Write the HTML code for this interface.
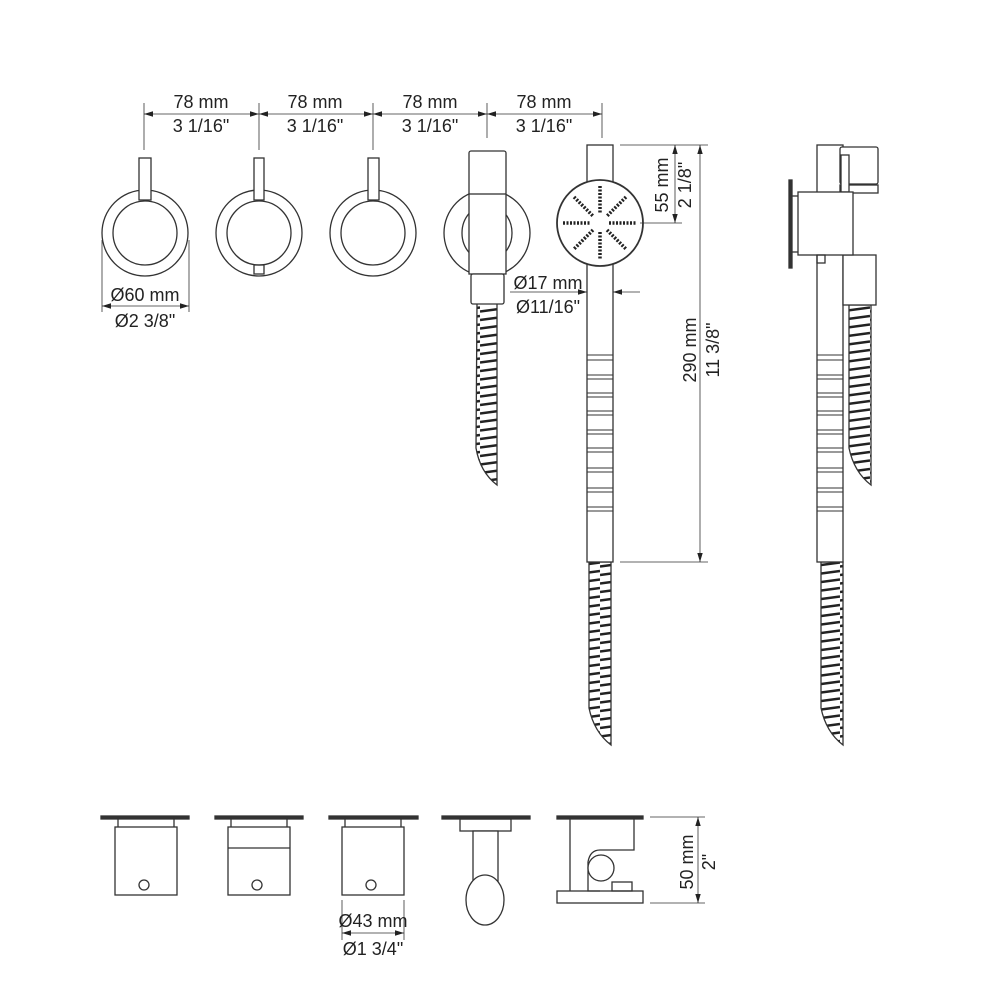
<!DOCTYPE html>
<html><head><meta charset="utf-8"><style>html,body{margin:0;padding:0;background:#fff}svg{display:block}text{font-family:"Liberation Sans",Arial,sans-serif;font-size:18px;fill:#222}</style></head>
<body>
<svg width="1000" height="1000" viewBox="0 0 1000 1000" xmlns="http://www.w3.org/2000/svg">
<defs>
<pattern id="hs" width="30" height="8.5" patternUnits="userSpaceOnUse">
<line x1="0" y1="5.5" x2="30" y2="1.5" stroke="#222" stroke-width="2.4"/>
</pattern>
<marker id="a" viewBox="0 0 10 10" refX="10" refY="5" markerWidth="9" markerHeight="9" orient="auto-start-reverse" markerUnits="userSpaceOnUse"><path d="M0,2 L10,5 L0,8 z" fill="#222"/></marker>
</defs>
<g fill="none" stroke="#333" stroke-width="1.3">
<g stroke-width="0.8">
<line x1="144" y1="103" x2="144" y2="150"/><line x1="259" y1="103" x2="259" y2="150"/><line x1="373" y1="103" x2="373" y2="150"/><line x1="487" y1="103" x2="487" y2="138"/><line x1="602" y1="103" x2="602" y2="138"/>
<line x1="144" y1="114" x2="259" y2="114" marker-start="url(#a)" marker-end="url(#a)"/>
<line x1="259" y1="114" x2="373" y2="114" marker-start="url(#a)" marker-end="url(#a)"/>
<line x1="373" y1="114" x2="487" y2="114" marker-start="url(#a)" marker-end="url(#a)"/>
<line x1="487" y1="114" x2="602" y2="114" marker-start="url(#a)" marker-end="url(#a)"/>
</g>
<circle cx="145" cy="233" r="43"/><circle cx="145" cy="233" r="32"/>
<rect x="139" y="158" width="12" height="42" fill="#fff"/>
<circle cx="259" cy="233" r="43"/><circle cx="259" cy="233" r="32"/>
<rect x="254" y="158" width="10" height="42" fill="#fff"/><rect x="254" y="265" width="10" height="9"/>
<circle cx="373" cy="233" r="43"/><circle cx="373" cy="233" r="32"/>
<rect x="368" y="158" width="11" height="42" fill="#fff"/>
<circle cx="487" cy="233" r="43"/><ellipse cx="487" cy="233" rx="25" ry="28"/>
<path d="M477,303 L497,303 L497,485 Q480,472 476,448 Z" fill="url(#hs)"/>
<rect x="469" y="151" width="37" height="44" rx="2" fill="#fff"/>
<rect x="469" y="194" width="37" height="80" fill="#fff"/>
<rect x="471" y="274" width="33" height="30" rx="2" fill="#fff"/>
<path d="M589,562 L611,562 L611,745 Q594,732 589,708 Z" fill="url(#hs)"/>
<rect x="587" y="145" width="26" height="417" fill="#fff"/>
<g stroke-width="1">
<line x1="587" y1="355" x2="613" y2="355"/><line x1="587" y1="360" x2="613" y2="360"/>
<line x1="587" y1="375" x2="613" y2="375"/><line x1="587" y1="379" x2="613" y2="379"/>
<line x1="587" y1="393" x2="613" y2="393"/><line x1="587" y1="397" x2="613" y2="397"/>
<line x1="587" y1="411" x2="613" y2="411"/><line x1="587" y1="415" x2="613" y2="415"/>
<line x1="587" y1="430" x2="613" y2="430"/><line x1="587" y1="434" x2="613" y2="434"/>
<line x1="587" y1="448" x2="613" y2="448"/><line x1="587" y1="452" x2="613" y2="452"/>
<line x1="587" y1="468" x2="613" y2="468"/><line x1="587" y1="472" x2="613" y2="472"/>
<line x1="587" y1="488" x2="613" y2="488"/><line x1="587" y1="492" x2="613" y2="492"/>
<line x1="587" y1="507" x2="613" y2="507"/><line x1="587" y1="511" x2="613" y2="511"/>
</g>
<circle cx="600" cy="223" r="43" fill="#fff" stroke-width="1.8"/>
<g stroke="#222" stroke-width="3.5" stroke-dasharray="2 1.5">
<line x1="600" y1="186" x2="600" y2="214"/><line x1="600" y1="232" x2="600" y2="260"/>
<line x1="563" y1="223" x2="591" y2="223"/><line x1="609" y1="223" x2="637" y2="223"/>
<line x1="574" y1="197" x2="593" y2="216"/><line x1="607" y1="230" x2="626" y2="249"/>
<line x1="626" y1="197" x2="607" y2="216"/><line x1="593" y1="230" x2="574" y2="249"/>
</g>
<g stroke-width="0.8">
<line x1="620" y1="145" x2="708" y2="145"/><line x1="640" y1="223" x2="682" y2="223"/><line x1="620" y1="562" x2="708" y2="562"/>
<line x1="675" y1="145" x2="675" y2="223" marker-start="url(#a)" marker-end="url(#a)"/>
<line x1="700" y1="145" x2="700" y2="562" marker-start="url(#a)" marker-end="url(#a)"/>
<line x1="510" y1="292" x2="587" y2="292" marker-end="url(#a)"/>
<line x1="640" y1="292" x2="613" y2="292" marker-end="url(#a)"/>
<line x1="102" y1="240" x2="102" y2="312"/><line x1="189" y1="240" x2="189" y2="312"/>
<line x1="102" y1="306" x2="189" y2="306" marker-start="url(#a)" marker-end="url(#a)"/>
</g>
<path d="M821,562 L843,562 L843,745 Q826,732 821,708 Z" fill="url(#hs)"/>
<path d="M849,305 L871,305 L871,485 Q854,472 849,448 Z" fill="url(#hs)"/>
<rect x="817" y="145" width="26" height="417" fill="#fff"/>
<g stroke-width="1">
<line x1="817" y1="355" x2="843" y2="355"/><line x1="817" y1="360" x2="843" y2="360"/>
<line x1="817" y1="375" x2="843" y2="375"/><line x1="817" y1="379" x2="843" y2="379"/>
<line x1="817" y1="393" x2="843" y2="393"/><line x1="817" y1="397" x2="843" y2="397"/>
<line x1="817" y1="411" x2="843" y2="411"/><line x1="817" y1="415" x2="843" y2="415"/>
<line x1="817" y1="430" x2="843" y2="430"/><line x1="817" y1="434" x2="843" y2="434"/>
<line x1="817" y1="448" x2="843" y2="448"/><line x1="817" y1="452" x2="843" y2="452"/>
<line x1="817" y1="468" x2="843" y2="468"/><line x1="817" y1="472" x2="843" y2="472"/>
<line x1="817" y1="488" x2="843" y2="488"/><line x1="817" y1="492" x2="843" y2="492"/>
<line x1="817" y1="507" x2="843" y2="507"/><line x1="817" y1="511" x2="843" y2="511"/>
</g>
<rect x="840" y="147" width="38" height="37" rx="2" fill="#fff"/>
<rect x="840" y="185" width="38" height="8" fill="#fff"/>
<rect x="841" y="155" width="8" height="37" fill="#fff"/>
<rect x="843" y="255" width="33" height="50" fill="#fff"/>
<rect x="798" y="192" width="55" height="63" fill="#fff"/>
<rect x="817" y="255" width="8" height="8"/>
<rect x="789" y="180" width="3" height="88" fill="#333"/>
<line x1="792" y1="196" x2="798" y2="196"/><line x1="792" y1="252" x2="798" y2="252"/>
<g>
<rect x="101" y="816" width="88" height="3" fill="#333"/><rect x="115" y="827" width="62" height="68"/><line x1="118" y1="819" x2="118" y2="827"/><line x1="174" y1="819" x2="174" y2="827"/><circle cx="144" cy="885" r="5"/>
<rect x="215" y="816" width="88" height="3" fill="#333"/><rect x="228" y="827" width="62" height="68"/><line x1="228" y1="848" x2="290" y2="848"/><line x1="231" y1="819" x2="231" y2="827"/><line x1="287" y1="819" x2="287" y2="827"/><circle cx="257" cy="885" r="5"/>
<rect x="329" y="816" width="89" height="3" fill="#333"/><rect x="342" y="827" width="62" height="68"/><line x1="345" y1="819" x2="345" y2="827"/><line x1="401" y1="819" x2="401" y2="827"/><circle cx="371" cy="885" r="5"/>
<rect x="442" y="816" width="88" height="3" fill="#333"/><rect x="460" y="819" width="51" height="12"/><rect x="473" y="831" width="25" height="50" fill="#fff"/><ellipse cx="485" cy="900" rx="19" ry="25" fill="#fff"/>
<rect x="557" y="816" width="86" height="3" fill="#333"/>
<rect x="557" y="891" width="86" height="12"/>
<path d="M570,819 L570,891 M634,819 L634,850 L600,850 Q590,850 588,862 L588,891 L600,891"/>
<circle cx="601" cy="868" r="13" fill="#fff"/>
<rect x="612" y="882" width="20" height="9"/>
</g>
<g stroke-width="0.8">
<line x1="650" y1="817" x2="705" y2="817"/><line x1="650" y1="903" x2="705" y2="903"/>
<line x1="698" y1="817" x2="698" y2="903" marker-start="url(#a)" marker-end="url(#a)"/>
<line x1="342" y1="900" x2="342" y2="940"/><line x1="404" y1="900" x2="404" y2="940"/>
<line x1="342" y1="933" x2="404" y2="933" marker-start="url(#a)" marker-end="url(#a)"/>
</g>
</g>
<g text-anchor="middle">
<text x="201" y="108">78 mm</text><text x="201" y="132">3 1/16"</text>
<text x="315" y="108">78 mm</text><text x="315" y="132">3 1/16"</text>
<text x="430" y="108">78 mm</text><text x="430" y="132">3 1/16"</text>
<text x="544" y="108">78 mm</text><text x="544" y="132">3 1/16"</text>
<text x="145" y="301">Ø60 mm</text><text x="145" y="327">Ø2 3/8"</text>
<text x="548" y="289">Ø17 mm</text><text x="548" y="313">Ø11/16"</text>
<text x="373" y="927">Ø43 mm</text><text x="373" y="955">Ø1 3/4"</text>
<text transform="translate(668,185) rotate(-90)">55 mm</text>
<text transform="translate(691,185) rotate(-90)">2 1/8"</text>
<text transform="translate(696,350) rotate(-90)">290 mm</text>
<text transform="translate(719,350) rotate(-90)">11 3/8"</text>
<text transform="translate(693,862) rotate(-90)">50 mm</text>
<text transform="translate(715,862) rotate(-90)">2"</text>
</g>
</svg>
</body></html>
